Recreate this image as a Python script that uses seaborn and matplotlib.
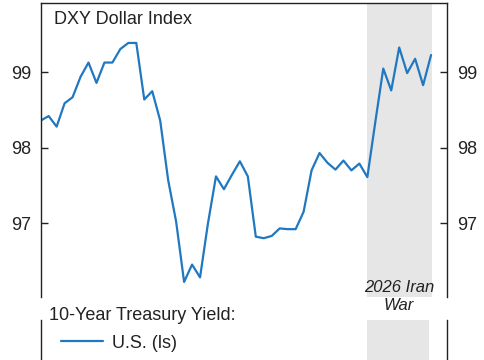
import numpy as np
import pandas as pd
import matplotlib
matplotlib.use("Agg")
import matplotlib.pyplot as plt
import seaborn as sns
from matplotlib.lines import Line2D

# Data (daily DXY dollar index)
dxy = [98.36, 98.42, 98.28, 98.59, 98.67, 98.94, 99.13, 98.86, 99.13, 99.13,
       99.31, 99.39, 99.39, 98.64, 98.75, 98.36, 97.57, 97.02, 96.22, 96.45,
       96.28, 97.00, 97.62, 97.45, 97.64, 97.82, 97.62, 96.82, 96.80, 96.83,
       96.93, 96.92, 96.92, 97.15, 97.70, 97.93, 97.80, 97.71, 97.83, 97.70,
       97.79, 97.61, 98.34, 99.05, 98.76, 99.33, 98.99, 99.18, 98.83, 99.23]
day = list(range(len(dxy)))
yticks = [97, 98, 99]
war_start, war_end = 41, 49.15
title_text = "DXY Dollar Index"
war_label = "2026 Iran\nWar"
legend_title = "10-Year Treasury Yield:"
legend_label = "U.S. (ls)"

df = pd.DataFrame({"day": day, "dxy": dxy})

sns.set_style("white")
plt.rcParams["font.family"] = ["Liberation Sans", "DejaVu Sans"]

blue = "#1f78c1"
gray = "#e6e6e6"

fig = plt.figure(figsize=(4.85, 3.6), dpi=100)
W, H = 485, 360
left = 40.7 / W
width = (447 - 40.7) / W
ax = fig.add_axes([left, 1 - 297 / H, width, (297 - 3) / H])
ax2 = fig.add_axes([left, -0.3, width, 0.3 + 1 - 320 / H])

ax.axvspan(war_start, war_end, color=gray, lw=0, zorder=0)
sns.lineplot(data=df, x="day", y="dxy", ax=ax, color=blue, lw=1.6)
ax.set_xlim(0, 51)
ax.set_ylim(96.02, 99.92)
ax.set_yticks(yticks)
ax.set_yticklabels([str(t) for t in yticks])
ax.set_xticks([])
ax.set_xlabel("")
ax.set_ylabel("")
for s in ["left", "right", "top"]:
    ax.spines[s].set_visible(True)
    ax.spines[s].set_color("#222222")
    ax.spines[s].set_linewidth(1.0)
ax.spines["bottom"].set_visible(False)
ax.tick_params(axis="y", direction="in", length=5, width=1, color="#222222",
               left=True, right=True, labelleft=True, labelright=True,
               labelsize=13, pad=7, labelcolor="#222222")
fig.text(54 / W, 1 - 20 / H, title_text, fontsize=13, va="center", ha="left",
         color="#222222")

# Bottom panel (continuation, mostly cropped)
ax2.axvspan(war_start, war_end - 0.35, color=gray, lw=0, zorder=0)
ax2.set_xlim(0, 51)
ax2.set_ylim(0, 1)
ax2.set_xticks([])
ax2.set_yticks([])
for s in ["left", "right"]:
    ax2.spines[s].set_color("#222222")
    ax2.spines[s].set_linewidth(1.0)
ax2.spines["top"].set_visible(False)
ax2.spines["bottom"].set_visible(False)
ax2.patch.set_alpha(0)

# War label
fig.text(399 / W, 1 - 296 / H, war_label, fontsize=12, style="italic",
         ha="center", va="center", color="#222222", linespacing=1.25)

# Legend
fig.text(49 / W, 1 - 315 / H, legend_title, fontsize=13, ha="left",
         va="center", color="#222222")
handle = Line2D([], [], color=blue, lw=1.6)
fig.legend([handle], [legend_label], loc="center left",
           bbox_to_anchor=(45 / W, 1 - 343 / H), frameon=False, fontsize=13,
           handlelength=2.3, handletextpad=0.5, labelcolor="#222222")

fig.savefig("out.png", dpi=100)
